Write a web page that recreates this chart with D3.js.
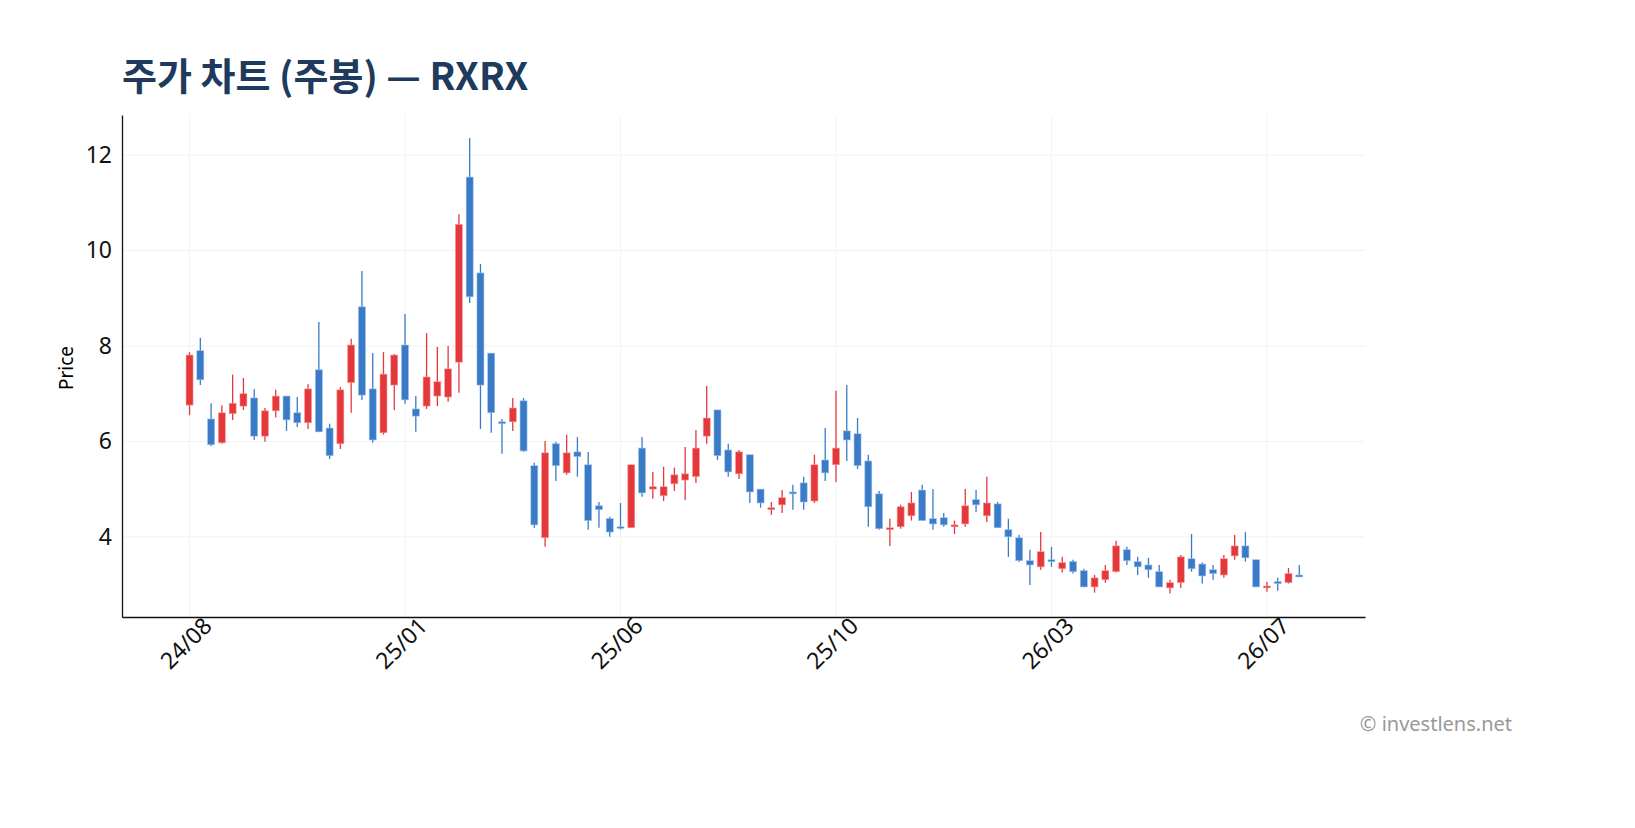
<!DOCTYPE html>
<html>
<head>
<meta charset="utf-8">
<script src="https://cdn.jsdelivr.net/npm/d3@7"></script>
<style>
  body { margin: 0; background: #fff; font-family: "Noto Sans CJK KR", "Noto Sans", sans-serif; }
  .tick text { font-family: "Noto Sans", sans-serif; }
</style>
</head>
<body>
<div id="chart"></div>
<script>
// weekly OHLC
const open  = [6.76,7.90,6.47,5.97,6.58,6.74,6.91,6.11,6.64,6.95,6.60,6.39,7.50,6.28,5.95,7.23,8.82,7.10,6.18,7.18,
  8.02,6.68,6.74,6.95,6.93,7.66,11.54,9.53,7.85,6.41,6.41,6.85,5.49,3.98,5.95,5.34,5.78,5.51,4.65,4.38,
  4.21,4.19,5.86,5.00,4.86,5.11,5.19,5.26,6.11,6.66,5.82,5.32,5.72,5.00,4.57,4.67,4.94,5.13,4.75,5.61,
  5.51,6.22,6.16,5.59,4.90,4.15,4.21,4.44,4.98,4.38,4.40,4.21,4.27,4.78,4.44,4.69,4.15,3.98,3.50,3.37,
  3.52,3.33,3.48,3.29,2.95,3.10,3.27,3.73,3.48,3.41,3.27,2.93,3.04,3.54,3.43,3.31,3.20,3.60,3.81,3.52,
  2.93,3.06,3.04,3.20];
const high  = [7.87,8.17,6.80,6.76,7.40,7.33,7.10,6.70,7.08,6.95,6.93,7.20,8.50,6.37,7.14,8.15,9.57,7.85,7.87,7.83,
  8.67,6.95,8.27,7.98,8.00,10.76,12.36,9.72,7.85,6.47,6.91,6.91,5.55,6.01,5.99,6.14,6.09,5.78,4.73,4.42,
  4.71,5.51,6.09,5.36,5.47,5.45,5.88,6.24,7.16,6.66,5.95,5.82,5.72,5.00,4.73,4.98,5.09,5.26,5.72,6.28,
  7.06,7.18,6.49,5.72,4.96,4.38,4.67,4.94,5.09,5.00,4.50,4.34,5.00,4.98,5.26,4.73,4.38,4.04,3.73,4.10,
  3.79,3.58,3.52,3.33,3.20,3.41,3.92,3.79,3.58,3.56,3.41,3.10,3.62,4.06,3.46,3.41,3.62,4.04,4.10,3.52,
  3.06,3.14,3.35,3.41];
const low   = [6.55,7.18,5.90,5.95,6.45,6.66,6.03,5.99,6.50,6.22,6.30,6.26,6.20,5.63,5.84,6.60,6.87,5.97,6.14,6.66,
  6.79,6.20,6.68,6.74,6.83,7.02,8.90,6.26,6.18,5.74,6.22,5.78,4.19,3.79,5.17,5.30,5.26,4.15,4.19,4.00,
  4.15,4.19,4.84,4.80,4.75,4.96,4.77,5.13,5.95,5.61,5.26,5.21,4.71,4.61,4.46,4.50,4.57,4.57,4.71,5.17,
  5.15,5.59,5.42,4.21,4.15,3.81,4.17,4.34,4.34,4.15,4.21,4.06,4.21,4.52,4.31,4.19,3.58,3.48,2.99,3.31,
  3.37,3.25,3.23,2.95,2.83,3.04,3.25,3.41,3.20,3.14,2.95,2.81,2.93,3.27,3.02,3.10,3.14,3.52,3.48,2.95,
  2.85,2.87,3.02,3.16];
const close = [7.81,7.29,5.93,6.60,6.80,7.00,6.11,6.64,6.95,6.45,6.39,7.10,6.20,5.70,7.08,8.02,6.97,6.03,7.41,7.81,
  6.87,6.53,7.35,7.25,7.52,10.55,9.03,7.18,6.60,6.37,6.70,5.80,4.25,5.76,5.49,5.76,5.68,4.34,4.57,4.10,
  4.19,5.51,4.92,5.05,5.05,5.30,5.32,5.86,6.49,5.70,5.36,5.78,4.94,4.71,4.61,4.82,4.90,4.73,5.51,5.34,
  5.86,6.03,5.49,4.63,4.17,4.19,4.63,4.71,4.34,4.27,4.25,4.25,4.65,4.67,4.71,4.19,4.00,3.50,3.41,3.69,
  3.48,3.46,3.27,2.95,3.14,3.29,3.81,3.50,3.37,3.31,2.95,3.04,3.58,3.33,3.18,3.23,3.54,3.81,3.56,2.95,
  2.97,3.02,3.23,3.16];
const tickIndex  = [0, 20, 40, 60, 80, 100];
const tickLabels = ["24/08", "25/01", "25/06", "25/10", "26/03", "26/07"];
const yTicks = [4, 6, 8, 10, 12];

const W = 1635, H = 828;
const margin = { top: 115, right: 270, bottom: 211, left: 122 };
const width = W - margin.left - margin.right;
const height = H - margin.top - margin.bottom;

const candles = open.map((o, i) => ({ i, o, h: high[i], l: low[i], c: close[i] }));

const svg = d3.select('#chart').append('svg')
    .attr('width', W).attr('height', H);

svg.append('text')
  .attr('x', 122).attr('y', 90)
  .style('font-size', '38px').style('font-weight', 700)
  .style('fill', '#1e3a5c')
  .text('주가 차트 (주봉) — RXRX');

const g = svg.append('g').attr('transform', `translate(${margin.left}, ${margin.top})`);

const x = d3.scaleLinear().domain([-6.27, 109.1]).range([0, width]);
const y = d3.scaleLinear().domain([2.32, 12.84]).range([height, 0]);

// grid
g.selectAll('.hgrid').data(yTicks).enter().append('line')
  .attr('x1', 0).attr('x2', width)
  .attr('y1', d => y(d)).attr('y2', d => y(d))
  .attr('stroke', '#f2f2f2');
g.selectAll('.vgrid').data(tickIndex).enter().append('line')
  .attr('y1', 0).attr('y2', height)
  .attr('x1', d => x(d)).attr('x2', d => x(d))
  .attr('stroke', '#f4f4f4');

const color = d => d.c >= d.o ? '#e5383b' : '#3a7bc8';

g.selectAll('.wick').data(candles).enter().append('line')
  .attr('x1', d => x(d.i)).attr('x2', d => x(d.i))
  .attr('y1', d => y(d.h)).attr('y2', d => y(d.l))
  .attr('stroke', color).attr('stroke-width', 1.3);

g.selectAll('.body').data(candles).enter().append('rect')
  .attr('x', d => x(d.i) - 3.5)
  .attr('width', 7)
  .attr('y', d => y(Math.max(d.o, d.c)))
  .attr('height', d => Math.max(1.5, Math.abs(y(d.o) - y(d.c))))
  .attr('fill', color)
  .attr('stroke', d => d.c >= d.o ? '#f3a0a2' : '#9cc0ea')
  .attr('stroke-width', 0.6);

const xAxis = g.append('g')
  .attr('transform', `translate(0, ${height})`)
  .call(d3.axisBottom(x).tickValues(tickIndex).tickFormat((d, i) => tickLabels[i]).tickSize(0).tickPadding(10));
xAxis.selectAll('text')
  .style('font-size', '23px').style('fill', '#111')
  .attr('text-anchor', 'end')
  .attr('dx', '0.4em').attr('dy', '0.6em')
  .attr('transform', 'rotate(-45)');

const yAxis = g.append('g')
  .call(d3.axisLeft(y).tickValues(yTicks).tickSize(0).tickPadding(10));
yAxis.selectAll('text').style('font-size', '23px').style('fill', '#111');

[xAxis, yAxis].forEach(a => a.select('.domain').attr('stroke', '#111').attr('stroke-width', 1.3));

svg.append('text')
  .attr('transform', 'translate(73, 368) rotate(-90)')
  .style('text-anchor', 'middle')
  .style('font-size', '19px').style('font-family', '"Noto Sans", sans-serif')
  .text('Price');

svg.append('text')
  .attr('x', 1512).attr('y', 731)
  .style('text-anchor', 'end')
  .style('font-size', '20px').style('fill', '#999')
  .style('font-family', '"Noto Sans", sans-serif')
  .text('© investlens.net');
</script>
</body>
</html>
